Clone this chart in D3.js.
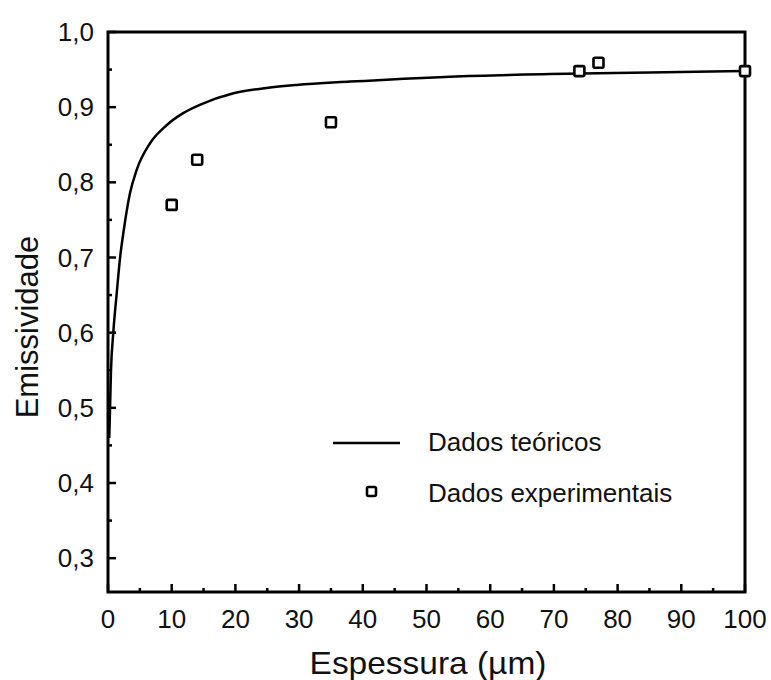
<!DOCTYPE html>
<html><head><meta charset="utf-8">
<script src="https://cdn.jsdelivr.net/npm/d3@7"></script>
<style>body{margin:0;background:#fff}svg{display:block}text{font-family:"Liberation Sans",Arial,sans-serif;fill:#111}</style>
</head><body>
<script>
const theoryX = [0.2, 0.47, 0.83, 1.37, 1.9, 2.4, 3.45, 4.5, 6.6, 9.2, 11.8, 14.4, 19.7, 24.9, 29.6, 38, 53.7, 69.4, 85, 100];
const theoryY = [0.46, 0.55, 0.60, 0.6525, 0.70, 0.732, 0.7855, 0.8165, 0.852, 0.876, 0.892, 0.903, 0.9185, 0.9255, 0.9295, 0.934, 0.9406, 0.944, 0.946, 0.948];
const expX = [10, 14, 35, 74, 77, 100];
const expY = [0.77, 0.83, 0.88, 0.948, 0.959, 0.948];
const xTicks = [0,10,20,30,40,50,60,70,80,90,100];
const yTicks = [0.3,0.4,0.5,0.6,0.7,0.8,0.9,1.0];
const legendLabels = ["Dados teóricos", "Dados experimentais"];

const W = 771, H = 680;
const L = 108, R = 745, T = 32, B = 592;
const svg = d3.select("body").append("svg").attr("width", W).attr("height", H);
const x = d3.scaleLinear().domain([0, 100]).range([L, R]);
const y = d3.scaleLinear().domain([0.255, 1.0]).range([B, T]);
const fmt = d => d3.format(".1f")(d).replace(".", ",");

// minor ticks
const xMinor = d3.range(5, 100, 10);
const yMinor = d3.range(0.35, 1.0, 0.1);
svg.append("g").selectAll("line").data(xMinor).join("line")
  .attr("x1", d => x(d)).attr("x2", d => x(d)).attr("y1", B).attr("y2", B - 4)
  .attr("stroke", "#000").attr("stroke-width", 2.5);
svg.append("g").selectAll("line").data(yMinor).join("line")
  .attr("y1", d => y(d)).attr("y2", d => y(d)).attr("x1", L).attr("x2", L + 4)
  .attr("stroke", "#000").attr("stroke-width", 2.5);
// major ticks
svg.append("g").selectAll("line").data(xTicks).join("line")
  .attr("x1", d => x(d)).attr("x2", d => x(d)).attr("y1", B).attr("y2", B - 8)
  .attr("stroke", "#000").attr("stroke-width", 2.5);
svg.append("g").selectAll("line").data(yTicks).join("line")
  .attr("y1", d => y(d)).attr("y2", d => y(d)).attr("x1", L).attr("x2", L + 8)
  .attr("stroke", "#000").attr("stroke-width", 2.5);

// tick labels
svg.append("g").selectAll("text").data(xTicks).join("text")
  .attr("x", d => x(d)).attr("y", 628).attr("text-anchor", "middle")
  .attr("font-size", 26).text(d => d);
svg.append("g").selectAll("text").data(yTicks).join("text")
  .attr("x", 94).attr("y", d => y(d) + 9).attr("text-anchor", "end")
  .attr("font-size", 26).text(fmt);

// frame
svg.append("rect").attr("x", L).attr("y", T).attr("width", R - L).attr("height", B - T)
  .attr("fill", "none").attr("stroke", "#000").attr("stroke-width", 3);

// theory curve
const line = d3.line().x(d => x(d[0])).y(d => y(d[1])).curve(d3.curveMonotoneX);
svg.append("path").datum(theoryX.map((v, i) => [v, theoryY[i]]))
  .attr("d", line).attr("fill", "none").attr("stroke", "#000").attr("stroke-width", 2.5);

// experimental points
const s = 10;
svg.append("g").selectAll("rect").data(expX.map((v, i) => [v, expY[i]])).join("rect")
  .attr("x", d => x(d[0]) - s / 2).attr("y", d => y(d[1]) - s / 2)
  .attr("width", s).attr("height", s).attr("rx", 1.5)
  .attr("fill", "#fff").attr("stroke", "#000").attr("stroke-width", 2.6);

// legend
svg.append("line").attr("x1", 333).attr("x2", 400).attr("y1", 443).attr("y2", 443)
  .attr("stroke", "#000").attr("stroke-width", 2.5);
svg.append("rect").attr("x", 367).attr("y", 487).attr("width", 9).attr("height", 9).attr("rx", 1.5)
  .attr("fill", "#fff").attr("stroke", "#000").attr("stroke-width", 2.6);
svg.append("text").attr("x", 428).attr("y", 451).attr("font-size", 26).text(legendLabels[0]);
svg.append("text").attr("x", 428).attr("y", 502).attr("font-size", 26).text(legendLabels[1]);

// axis titles
svg.append("text").attr("x", 428).attr("y", 674).attr("text-anchor", "middle")
  .attr("font-size", 31).attr("transform", "translate(428,0) scale(1.08,1) translate(-428,0)").text("Espessura (µm)");
svg.append("text").attr("transform", "translate(38,327) rotate(-90)").attr("text-anchor", "middle")
  .attr("font-size", 31).text("Emissividade");
</script>
</body></html>
